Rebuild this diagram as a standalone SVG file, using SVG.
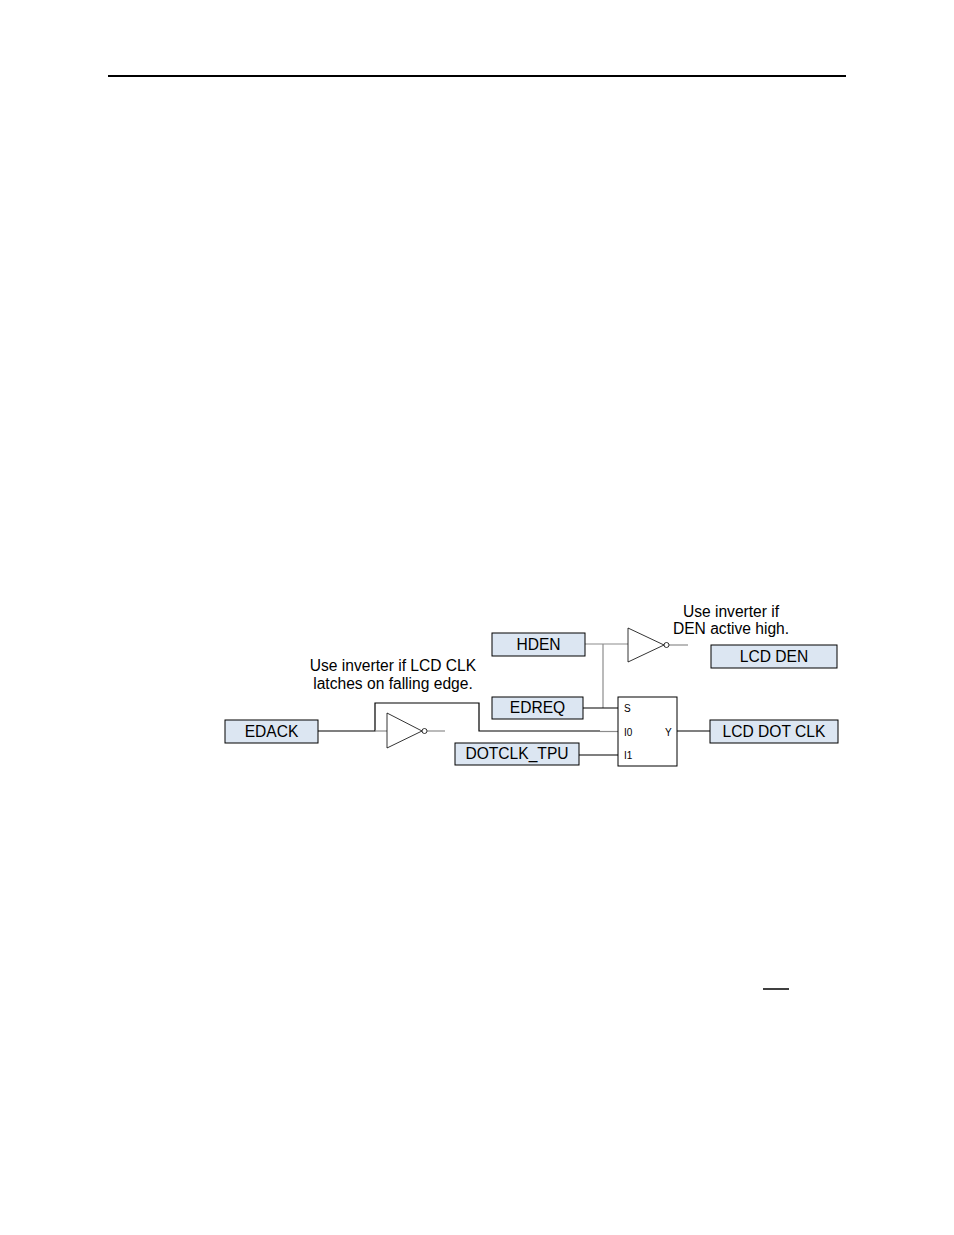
<svg xmlns="http://www.w3.org/2000/svg" width="954" height="1235" viewBox="0 0 954 1235">
<style>
.box{fill:#dce6f2;stroke:#000;stroke-width:1}
.lbl{font-family:"Liberation Sans",Arial,sans-serif;font-size:15.6px;fill:#000;text-anchor:middle;dominant-baseline:central}
.note{font-family:"Liberation Sans",Arial,sans-serif;font-size:15.6px;fill:#000;text-anchor:middle}
.pin{font-family:"Liberation Sans",Arial,sans-serif;font-size:10px;fill:#000;dominant-baseline:central}
.w{fill:none;stroke:#000;stroke-width:1.2}
.g{fill:none;stroke:#8c8c8c;stroke-width:1.2}
.inv{fill:#fff;stroke:#000;stroke-width:0.8}
</style>
<rect width="954" height="1235" fill="#fff"/>
<line x1="108" y1="76" x2="846" y2="76" stroke="#000" stroke-width="2"/>
<line x1="763" y1="989" x2="789" y2="989" stroke="#000" stroke-width="1.5"/>
<g id="connectors">
<polyline class="g" points="585,644 603,644 628,644"/>
<line class="g" x1="603" y1="644" x2="603" y2="708"/>
<line class="w" x1="583" y1="708" x2="618" y2="708"/>
<polyline class="w" points="318,731 375,731 375,703 479,703 479,731 600,731"/>
<line class="g" x1="600" y1="731.5" x2="618" y2="731.5"/>
<line class="g" x1="375" y1="731" x2="387" y2="731"/>
<line class="g" x1="427" y1="731" x2="445" y2="731"/>
<line class="g" x1="669" y1="645" x2="688" y2="645"/>
<line class="w" x1="579" y1="755" x2="618" y2="755"/>
<line class="w" x1="677" y1="731" x2="710" y2="731"/>
</g>
<g id="hden"><rect class="box" x="492" y="633" width="93" height="23"/><text class="lbl" x="538.5" y="644">HDEN</text></g>
<g id="edreq"><rect class="box" x="492" y="697" width="91" height="22"/><text class="lbl" x="537.5" y="707.5">EDREQ</text></g>
<g id="edack"><rect class="box" x="225" y="720" width="93" height="23"/><text class="lbl" x="271.5" y="731">EDACK</text></g>
<g id="dotclk_tpu"><rect class="box" x="455" y="743" width="124" height="22"/><text class="lbl" x="517" y="753.5">DOTCLK_TPU</text></g>
<g id="lcd_den"><rect class="box" x="711" y="645" width="126" height="23"/><text class="lbl" x="774" y="656">LCD DEN</text></g>
<g id="lcd_dot_clk"><rect class="box" x="710" y="720" width="128" height="23"/><text class="lbl" x="774" y="731">LCD DOT CLK</text></g>
<g id="inv_den"><polygon class="inv" points="628,628 628,662 664,645"/><circle class="inv" cx="666.5" cy="645" r="2.5"/></g>
<g id="inv_clk"><polygon class="inv" points="387,713 387,748 422,731"/><circle class="inv" cx="424.5" cy="731" r="2.5"/></g>
<g id="mux"><rect x="618" y="697" width="59" height="69" fill="#fff" stroke="#000" stroke-width="1"/>
<text class="pin" x="624" y="708">S</text><text class="pin" x="624" y="732">I0</text><text class="pin" x="624" y="755">I1</text><text class="pin" x="665" y="732">Y</text></g>
<g id="note_den"><text class="note" x="731" y="617">Use inverter if</text><text class="note" x="731" y="634">DEN active high.</text></g>
<g id="note_clk"><text class="note" x="393" y="671">Use inverter if LCD CLK</text><text class="note" x="393" y="689">latches on falling edge.</text></g>
</svg>
